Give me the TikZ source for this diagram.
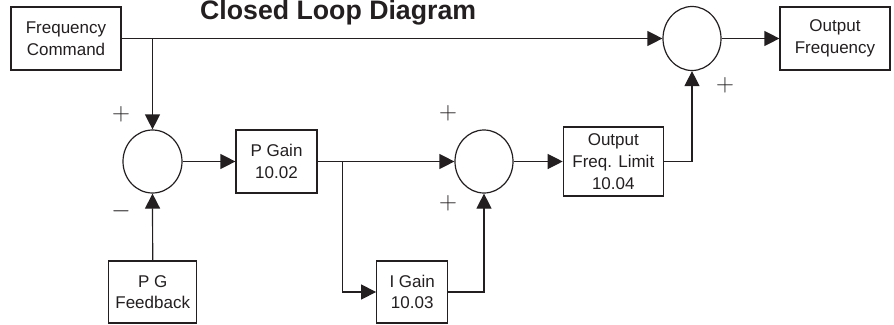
\documentclass[tikz,border=0pt]{standalone}
\usepackage{fontspec}
\setmainfont{Liberation Sans}
\usetikzlibrary{shapes.geometric,arrows.meta}
\definecolor{ink}{HTML}{231F20}
\begin{document}
\begin{tikzpicture}[x=1pt,y=-1pt,
  every node/.style={text=ink},
  blk/.style={draw=ink, line width=1.2pt, rectangle, inner sep=0pt, align=center,
              font=\fontsize{17}{21.7}\selectfont},
  sumj/.style={draw=ink, line width=1.2pt, ellipse, inner sep=0pt, minimum width=59pt, minimum height=63pt},
  arr/.style={draw=ink, line width=1.2pt, -{Triangle[length=15pt,width=15pt]}},
  ln/.style={draw=ink, line width=1.2pt},
  sgn/.style={inner sep=0pt, font=\fontsize{27}{27}\selectfont}
]
\useasboundingbox (0,0) rectangle (894,324);
\node[anchor=base west, inner sep=0pt, font=\bfseries\fontsize{26.7}{30}\selectfont] (title) at (200,19.5) {Closed Loop Diagram};

\node[blk, minimum width=110pt, minimum height=63pt] (fc) at (66,38.5) {Frequency\\Command};
\node[blk, minimum width=110pt, minimum height=63pt] (out) at (835,38.5) {Output\\Frequency};
\node[sumj, minimum width=58pt, minimum height=64pt] (s3) at (692,38.5) {};
\node[sumj] (s1) at (152.5,161.5) {};
\node[blk, minimum width=81pt, minimum height=63pt] (pg) at (276.5,161.5) {P Gain\\10.02};
\node[sumj, minimum width=58pt] (s2) at (484,161.5) {};
\node[blk, minimum width=100pt, minimum height=69pt] (ofl) at (613.3,161.5) {Output\\Freq. Limit\\10.04};
\node[blk, minimum width=88pt, minimum height=62pt] (pgf) at (152.7,292) {P G\\Feedback};
\node[blk, minimum width=71pt, minimum height=62pt] (ig) at (412.2,292) {I Gain\\10.03};

\node[sgn] (p1) at (121,114) {$+$};
\node[sgn] (m1) at (121,211) {$-$};
\node[sgn] (p2) at (448,113) {$+$};
\node[sgn] (p3) at (448,203) {$+$};
\node[sgn] (p4) at (725,85) {$+$};

\coordinate (br) at (342.3,161.5);

\draw[arr] (fc.east) -- (s3.west);
\draw[arr] (s1.north |- fc.east) -- (s1.north);
\draw[arr] (s3.east) -- (out.west);
\draw[arr] (s1.east) -- (pg.west);
\draw[arr] (pg.east) -- (s2.west);
\draw[arr] (pgf.north) -- (s1.south);
\draw[arr] (br) |- (ig.west);
\draw[arr] (ig.east) -| (s2.south);
\draw[arr] (s2.east) -- (ofl.west);
\draw[arr] (ofl.east) -| (s3.south);
\end{tikzpicture}
\end{document}
